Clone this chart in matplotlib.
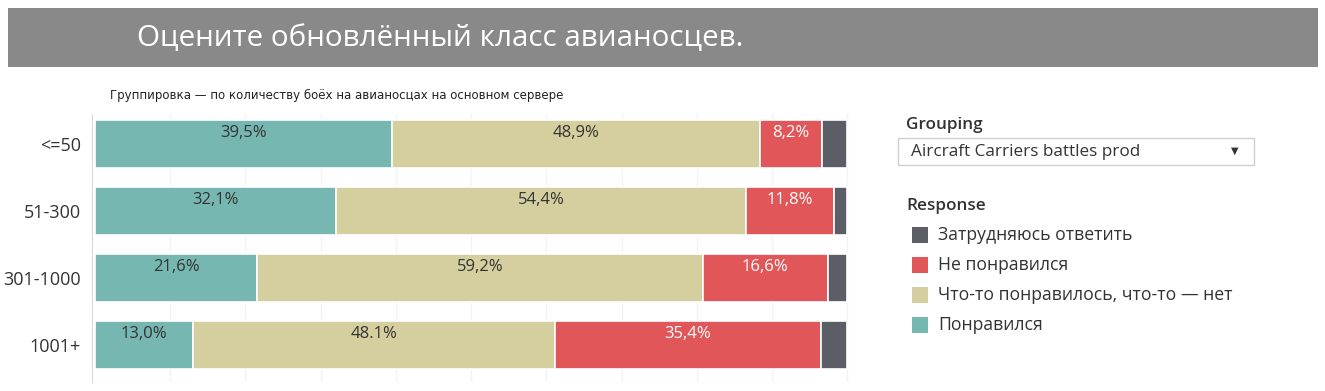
import matplotlib
matplotlib.use("Agg")
import matplotlib.pyplot as plt
from matplotlib.patches import Rectangle

categories = ["<=50", "51-300", "301-1000", "1001+"]
liked = [39.5, 32.1, 21.6, 13.0]
mixed = [48.9, 54.4, 59.2, 48.1]
disliked = [8.2, 11.8, 16.6, 35.4]
unsure = [3.4, 1.7, 2.6, 3.5]
liked_lbl = ["39,5%", "32,1%", "21,6%", "13,0%"]
mixed_lbl = ["48,9%", "54,4%", "59,2%", "48.1%"]
disliked_lbl = ["8,2%", "11,8%", "16,6%", "35,4%"]

series_names = ["Затрудняюсь ответить", "Не понравился", "Что-то понравилось, что-то — нет", "Понравился"]
colors = {"liked": "#76b7b2", "mixed": "#d5ce9f", "disliked": "#e15759", "unsure": "#5b5e66"}

title = "Оцените обновлённый класс авианосцев."
subtitle = "Группировка — по количеству боёх на авианосцах на основном сервере"

plt.rcParams['font.family'] = ['Open Sans', 'DejaVu Sans']

W, H = 1325, 391
fig = plt.figure(figsize=(W / 100, H / 100), dpi=100)
fig.patch.set_facecolor("white")

# title banner
fig.patches.append(Rectangle((8 / W, 1 - 67 / H), (1318 - 8) / W, 59 / H,
                             transform=fig.transFigure, facecolor="#898989",
                             edgecolor="none", zorder=0))
fig.text(137 / W, 1 - 39 / H, title, color="white", fontsize=21.3, va="center", ha="left",
         family=["Open Sans", "DejaVu Sans"])
fig.text(110 / W, 1 - 95 / H, subtitle, color="#222222", fontsize=8.5, va="center", ha="left",
         family=["DejaVu Sans"])

ax = fig.add_axes([95 / W, 1 - 382 / H, 756 / W, 268 / H])
y = list(range(len(categories)))
h = 0.72
left = [0] * len(categories)
segs = [(liked, colors["liked"], liked_lbl, "#333333"),
        (mixed, colors["mixed"], mixed_lbl, "#333333"),
        (disliked, colors["disliked"], disliked_lbl, "white"),
        (unsure, colors["unsure"], None, None)]
for vals, col, lbls, tcol in segs:
    ax.barh(y, vals, left=left, height=h, color=col, edgecolor="white", linewidth=1.2, zorder=3)
    if lbls is not None:
        for i, (v, l, lb) in enumerate(zip(vals, left, lbls)):
            ax.text(l + v / 2, i - 0.16, lb, ha="center", va="center", color=tcol,
                    fontsize=12, zorder=4)
    left = [a + b for a, b in zip(left, vals)]

ax.set_xlim(0, 100.5)
ax.set_ylim(3.55, -0.45)
ax.set_yticks(y)
ax.set_yticklabels(categories)
ax.tick_params(axis="y", length=0, pad=8, labelsize=13, labelcolor="#333333")
ax.set_xticks([10 * k for k in range(1, 11)])
ax.tick_params(axis="x", length=0, labelbottom=False)
ax.grid(axis="x", color="#f3f3f3", linewidth=1, zorder=0)
for s in ["top", "right", "bottom"]:
    ax.spines[s].set_visible(False)
ax.spines["left"].set_color("#d8d8d8")
ax.spines["left"].set_position(("outward", 2))

# right panel
fig.text(906 / W, 1 - 125 / H, "Grouping", fontsize=12.3, color="#333333", weight="semibold",
         va="center", ha="left")
fig.patches.append(Rectangle((898 / W, 1 - 165 / H), (1254 - 898) / W, 27 / H,
                             transform=fig.transFigure, facecolor="white",
                             edgecolor="#cfcfcf", linewidth=1))
fig.text(911 / W, 1 - 152 / H, "Aircraft Carriers battles prod", fontsize=12.3, color="#333333",
         va="center", ha="left")
fig.text(1235 / W, 1 - 151 / H, "▼", fontsize=7, color="#333333", va="center", ha="center",
         family=["DejaVu Sans"])
fig.text(906 / W, 1 - 206 / H, "Response", fontsize=12.3, color="#333333", weight="semibold",
         va="center", ha="left")
leg_colors = [colors["unsure"], colors["disliked"], colors["mixed"], colors["liked"]]
for k, (name, col) in enumerate(zip(series_names, leg_colors)):
    yc = 235 + 30 * k
    fig.patches.append(Rectangle((912 / W, 1 - (yc + 8) / H), 16 / W, 16 / H,
                                 transform=fig.transFigure, facecolor=col, edgecolor="none"))
    fig.text(938 / W, 1 - yc / H, name, fontsize=12.7, color="#333333", va="center", ha="left")

fig.savefig("out.png", dpi=100)
